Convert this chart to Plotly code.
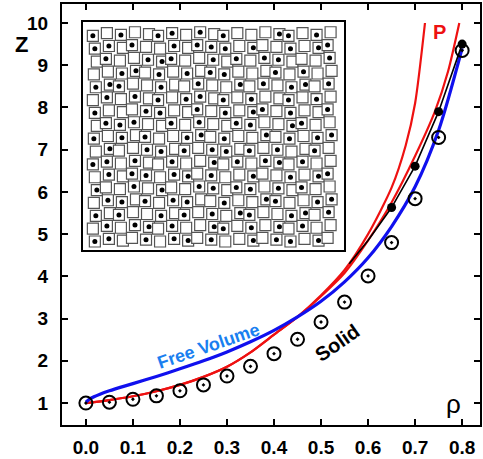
import plotly.graph_objects as go

# ---- data ----
rho_sim = [0.0, 0.05, 0.10, 0.15, 0.20, 0.25, 0.30, 0.35, 0.40, 0.45, 0.50, 0.55, 0.60, 0.65, 0.70, 0.75, 0.80]
z_sim = [1.00, 1.02, 1.09, 1.17, 1.29, 1.43, 1.64, 1.87, 2.17, 2.51, 2.92, 3.39, 4.01, 4.80, 5.84, 7.29, 9.35]

rho_solid = [0.56, 0.60, 0.65, 0.70, 0.75, 0.80]
z_solid = [4.30, 4.85, 5.63, 6.61, 7.90, 9.50]
rho_solid_pts = [0.65, 0.70, 0.75, 0.80]
z_solid_pts = [5.63, 6.61, 7.90, 9.50]

rho_fv = [0.0, 0.01, 0.03, 0.05, 0.10, 0.15, 0.20, 0.25, 0.30, 0.35, 0.40, 0.45, 0.50, 0.55, 0.60, 0.65, 0.70, 0.75, 0.80]
z_fv = [1.02, 1.11, 1.21, 1.29, 1.46, 1.63, 1.81, 2.00, 2.21, 2.45, 2.72, 3.04, 3.41, 3.87, 4.44, 5.18, 6.12, 7.46, 9.40]

rho_pa = [0.0, 0.05, 0.10, 0.15, 0.20, 0.25, 0.30, 0.35, 0.40, 0.45, 0.50, 0.55, 0.60, 0.65, 0.68, 0.70, 0.721]
z_pa = [1.00, 1.07, 1.16, 1.28, 1.43, 1.62, 1.86, 2.20, 2.62, 3.04, 3.55, 4.15, 5.00, 6.10, 7.10, 8.10, 10.0]

rho_pb = [0.0, 0.05, 0.10, 0.15, 0.20, 0.25, 0.30, 0.35, 0.40, 0.45, 0.50, 0.55, 0.60, 0.65, 0.70, 0.742, 0.77, 0.794]
z_pb = [1.00, 1.07, 1.16, 1.28, 1.43, 1.62, 1.86, 2.20, 2.62, 3.04, 3.53, 4.08, 4.85, 5.75, 6.85, 7.90, 8.85, 10.0]

x_ticks = [0.0, 0.1, 0.2, 0.3, 0.4, 0.5, 0.6, 0.7, 0.8]
y_ticks = [1, 2, 3, 4, 5, 6, 7, 8, 9, 10]

# inset configuration pattern: 'o' square with particle dot, '.' empty square, ' ' gap
inset_rows = [
    "o.o..oo.o.o...oo.o.",
    "oo.o..o.ooo.o..o.oo",
    ".o..ooo..o.o.oo...o",
    "..oo.o.o.oo...o.o..",
    "ooo..o..o..o.o.oo.o",
    ".o.o.o.oo.o.o..o.o.",
    "o...oo..o.o.oo.o..o",
    ".ooo..o.o..oo..oo..",
    "o.o.o..oo.o..o.o.oo",
    ".o..oo.o.oo.o.o..o.",
    "oo.o..o..o.o.oo.o..",
    ".o.oo.oo.o..o..o.oo",
    "o..o.o..oo.oo.o.o..",
    ".oo.o.oo..o..oo..oo",
    "o.o..o.o.o.oo..oo.o",
    ".o.oo.o..oo.o.o.o..",
    "oo..o.oo.o..o.oo.o.",
]

fig = go.Figure()

red = "#ee1111"
fig.add_trace(go.Scatter(x=rho_pa, y=z_pa, mode="lines", line=dict(color=red, width=2.2, shape="spline", smoothing=0.7), showlegend=False))
fig.add_trace(go.Scatter(x=rho_pb, y=z_pb, mode="lines", line=dict(color=red, width=2.2, shape="spline", smoothing=0.7), showlegend=False))
fig.add_trace(go.Scatter(x=rho_fv, y=z_fv, mode="lines", line=dict(color="#1010ee", width=3.2, shape="spline", smoothing=0.8), showlegend=False))
fig.add_trace(go.Scatter(x=rho_solid, y=z_solid, mode="lines", line=dict(color="black", width=1.6), showlegend=False))
fig.add_trace(go.Scatter(x=rho_solid_pts, y=z_solid_pts, mode="markers", marker=dict(color="black", size=9), showlegend=False))
fig.add_trace(go.Scatter(x=rho_sim, y=z_sim, mode="markers",
                         marker=dict(symbol="circle-open-dot", size=13, color="black", line=dict(width=2, color="black")),
                         showlegend=False))

# inset squares
sq_x, sq_y, dot_x, dot_y = [], [], [], []
for i, row in enumerate(inset_rows):
    for j, ch in enumerate(row):
        if ch == " ":
            continue
        dx = ((i * 7 + j * 11) % 5 - 2) * 1.0
        dy = ((i * 5 + j * 3) % 5 - 2) * 0.9
        cx = 12 + 13.1 * j + dx
        cy = 229 - (12 + 12.9 * i) + dy
        sq_x.append(cx)
        sq_y.append(cy)
        if ch == "o":
            dot_x.append(cx)
            dot_y.append(cy)

fig.add_trace(go.Scatter(x=sq_x, y=sq_y, xaxis="x2", yaxis="y2", mode="markers",
                         marker=dict(symbol="square", size=11, color="white", line=dict(color="#555555", width=1.2)),
                         showlegend=False, hoverinfo="skip"))
fig.add_trace(go.Scatter(x=dot_x, y=dot_y, xaxis="x2", yaxis="y2", mode="markers",
                         marker=dict(symbol="circle", size=5, color="black"),
                         showlegend=False, hoverinfo="skip"))

tickfont = dict(family="Liberation Sans, Arial, sans-serif", size=19, color="black", weight="bold")

fig.update_layout(
    width=483, height=459,
    margin=dict(l=62, r=1, t=4, b=33),
    plot_bgcolor="white", paper_bgcolor="white",
    xaxis=dict(range=[-0.0508, 0.838], tickvals=x_ticks, ticktext=[f"{v:.1f}" for v in x_ticks],
               ticks="inside", ticklen=6, tickwidth=1.5, tickcolor="black",
               showline=True, linecolor="black", linewidth=2, mirror="allticks",
               showgrid=False, zeroline=False, tickfont=tickfont, ticklabelstandoff=4),
    yaxis=dict(range=[0.48, 10.45], tickvals=y_ticks,
               ticks="inside", ticklen=6, tickwidth=1.5, tickcolor="black",
               showline=True, linecolor="black", linewidth=2, mirror="allticks",
               showgrid=False, zeroline=False, tickfont=tickfont, ticklabelstandoff=8),
    xaxis2=dict(domain=[0.05, 0.674], range=[0, 262], anchor="y2", showline=True, linecolor="black",
                linewidth=1.5, mirror=True, showticklabels=False, ticks="", showgrid=False, zeroline=False),
    yaxis2=dict(domain=[0.415, 0.957], range=[0, 229], anchor="x2", showline=True, linecolor="black",
                linewidth=1.5, mirror=True, showticklabels=False, ticks="", showgrid=False, zeroline=False),
    font=dict(family="Liberation Sans, Arial, sans-serif"),
    annotations=[
        dict(text="Z", xref="paper", yref="y", x=-0.118, y=9.5, showarrow=False,
             font=dict(size=22, color="black", weight="bold")),
        dict(text="ρ", xref="x", yref="y", x=0.781, y=0.98, showarrow=False,
             font=dict(size=26, color="black")),
        dict(text="P", xref="x", yref="y", x=0.751, y=9.79, showarrow=False,
             font=dict(size=20, color=red, weight="bold")),
        dict(text="Free Volume", xref="x", yref="y", x=0.261, y=2.36, showarrow=False, textangle=-19,
             font=dict(size=18, color="#1a7ff0", weight="bold")),
        dict(text="Solid", xref="x", yref="y", x=0.534, y=2.42, showarrow=False, textangle=-35,
             font=dict(size=20, color="black", weight="bold")),
    ],
)

fig.write_html("out.html", config={"displayModeBar": False},
               post_script="document.body.style.margin='0';document.body.style.padding='0';")
